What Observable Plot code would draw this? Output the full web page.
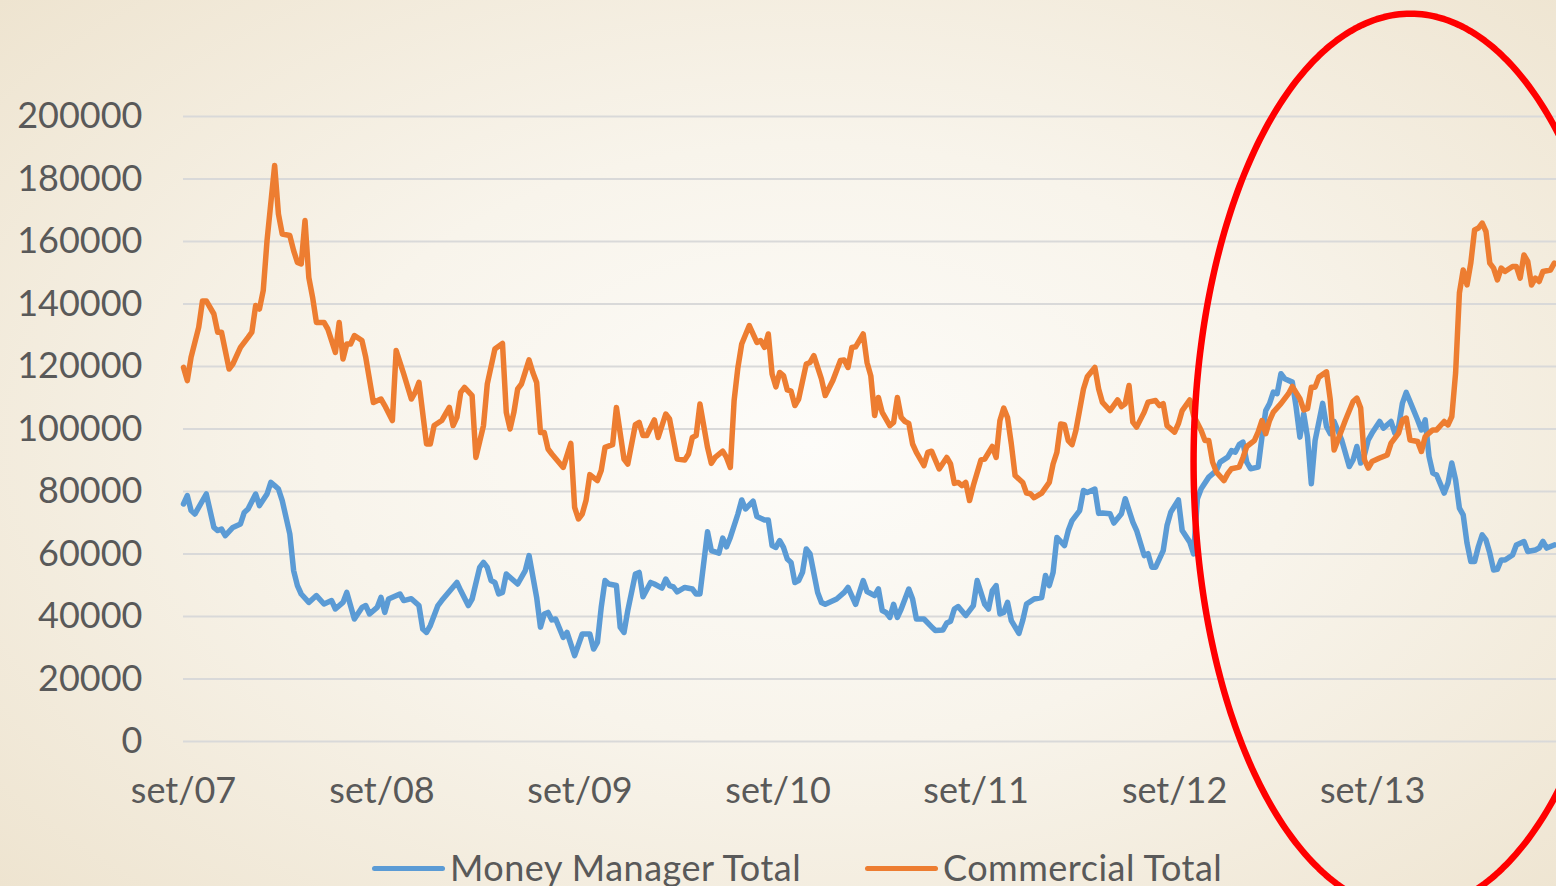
<!DOCTYPE html>
<html>
<head>
<meta charset="utf-8">
<script src="https://cdn.jsdelivr.net/npm/d3@7"></script>
<script src="https://cdn.jsdelivr.net/npm/@observablehq/plot@0.6"></script>
<style>
  html, body { margin: 0; padding: 0; width: 1556px; height: 886px; overflow: hidden; }
  body {
    background: radial-gradient(ellipse 70% 75% at 52% 50%, #fdfcf9 0%, #f8f4eb 45%, #eee4d0 100%);
    font-family: Lato, "Open Sans", sans-serif;
    position: relative;
  }
  #chart { position: absolute; left: 0; top: 0; }
  .sw { position: absolute; height: 5px; width: 73px; border-radius: 3px; top: 866px; }
  .lt { position: absolute; font-size: 36px; line-height: 36px; color: #595959; top: 849px; white-space: nowrap; letter-spacing: 0.5px; }
</style>
</head>
<body>
<div id="chart"></div>
<div class="sw" style="left:372px;background:#5B9BD5"></div>
<div class="lt" style="left:450px">Money Manager Total</div>
<div class="sw" style="left:865px;background:#ED7D31"></div>
<div class="lt" style="left:943px">Commercial Total</div>
<script>
// ---- data (weekly positions, weeks counted from set/07) ----
const seriesNames = ["Money Manager Total", "Commercial Total"];
const seriesColors = ["#5B9BD5", "#ED7D31"];

const mmWeeks = [0,1,2,3,4,6,8,9,10,11,13,15,16,17,19,20,22,23,24,25,26,28,29,30,31,33,35,37,39,40,42,43,45,47,48,49,51,52,53,54,57,58,60,62,63,64,65,67,68,72,73,75,76,78,79,80,81,82,83,84,85,88,90,91,93,94,95,96,97,98,100,101,103,105,107,108,109,110,111,112,114,115,116,117,119,120,121,123,124,126,127,128,129,130,132,134,135,136,138,139,141,142,143,144,146,147,148,150,151,153,154,155,156,157,158,159,160,161,162,163,164,165,167,168,169,172,174,175,177,179,180,182,183,184,185,186,187,188,189,191,192,193,195,197,198,200,201,202,203,204,206,208,209,211,212,213,214,215,216,217,218,220,221,222,224,226,227,228,229,230,232,233,234,236,237,238,240,241,242,244,245,247,248,250,251,253,254,255,256,258,259,260,262,263,265,266,267,268,270,272,273,275,276,277,278,279,280,281,283,284,285,286,287,288,289,290,292,293,294,295,296,297,298,300,301,302,303,305,307,308,309,310,311,312,313,315,316,318,319,320,321,322,323,325,326,327,328,329,330,332,333,334,335,336,337,338,339,340,341,342,343,344,345,346,347,348,350,351,353,354,356,357,358,359,361];
const mmValues = [76000,78700,73900,72800,74900,79200,68500,67500,68000,65900,68500,69600,73300,74400,79200,75500,79200,82900,81900,80800,77100,66400,54700,49900,47200,44500,46700,44000,45100,42400,44500,47700,39200,42900,43500,40800,42900,46100,41300,45600,47200,45100,45700,43500,36000,34900,37100,43500,45100,50900,48300,43500,45600,55700,57300,55700,51500,50900,47200,47700,53600,50400,54700,59500,46100,36600,40800,41300,38900,39200,33300,34900,27500,34400,34400,29600,31700,42900,51500,50400,49900,36600,34900,41900,53600,54100,46300,50900,50400,49100,52000,49900,49500,47900,49300,48800,47200,47200,67100,61100,60300,65100,62300,65300,72800,77300,74400,76900,72000,70900,70900,62700,62100,64300,62100,58400,57300,50900,51500,54100,61600,60000,47700,44500,43900,45600,47700,49300,43900,51500,48000,46700,48800,41900,41300,39700,43900,39700,42400,48800,45600,39200,39200,36700,35500,35700,37900,38500,42400,43200,40300,43500,51500,43900,42400,48300,49900,40800,41300,44500,38700,34600,38700,44000,45600,46100,53100,49900,54100,65300,62700,67500,70700,73900,80300,79700,80800,73000,73100,72900,69900,72900,77700,70200,67500,59500,60100,55800,55800,61100,69100,73400,77300,67500,63800,60000,77700,80900,84600,86700,89400,91000,93100,92600,95000,95800,89400,87300,87800,97400,105900,108100,111800,111300,117700,116100,115000,107000,97400,104900,97400,82500,96300,108200,100800,98500,102400,96500,88000,90100,94400,89100,91700,96500,98700,102400,100300,102400,98700,100800,108300,111700,108800,102900,99700,102900,91200,85900,85300,79500,82700,89100,83700,74700,72500,63500,57600,57600,62400,66100,64500,60300,54900,55100,58100,58100,59700,62900,64000,60800,61300,61900,64000,61900,62900];

const cWeeks = [0,1,2,4,5,6,8,9,10,12,13,15,17,18,19,20,21,22,24,25,26,28,29,30,31,32,33,34,35,37,38,39,40,41,42,43,44,45,47,48,50,52,53,55,56,58,60,61,62,64,65,66,68,69,70,71,72,73,74,76,77,79,80,82,84,85,86,87,88,89,91,92,93,94,95,96,97,100,102,103,104,105,106,107,109,110,111,113,114,116,117,119,120,121,122,124,125,127,128,130,132,133,134,135,136,138,139,140,142,143,144,145,146,147,149,151,152,153,154,155,156,157,158,159,160,161,162,164,165,166,168,169,171,173,174,175,176,177,179,180,181,182,183,184,186,187,188,189,190,191,192,193,195,196,197,199,201,202,203,204,205,206,207,208,210,211,213,214,215,216,217,218,219,221,222,223,224,226,228,229,230,231,232,233,234,235,237,238,240,241,242,244,246,247,248,249,250,251,253,254,256,257,258,259,261,262,263,265,266,268,269,270,271,272,274,275,276,278,279,280,282,283,284,285,286,287,289,291,292,294,295,296,297,298,299,301,302,303,304,306,308,309,310,311,312,313,315,317,318,320,321,322,323,325,326,327,329,330,332,333,334,335,336,337,338,339,340,341,342,343,344,345,346,347,348,350,351,352,353,354,355,356,357,358,360,361];
const cValues = [119700,115500,123000,132500,141000,141000,136800,131000,131000,119200,120800,126100,129300,131000,139500,138400,144300,160300,184300,168800,162400,161900,157100,153300,152800,166700,148500,142100,134100,134100,132000,128300,124500,134100,122400,127200,127200,129900,128300,122900,108500,109600,107500,102700,125100,117600,109600,111700,114900,95200,95200,101100,102700,104800,106900,101100,103700,111700,113300,110700,90900,101100,114400,125600,127400,105300,100000,105300,112800,114400,122100,118100,114900,98900,98900,93600,92000,87700,95400,74900,71200,72800,77100,85400,83500,86700,94100,95000,106900,90400,88800,101400,102100,97900,97900,102900,97300,104800,103200,90400,90100,92000,97300,97900,108000,94100,89000,90900,92900,90900,87700,109100,119700,127200,133100,127700,128300,126100,130400,117600,113500,118100,117100,112500,112100,107500,109600,120800,121300,123500,116000,110700,115500,121900,122100,119700,126100,126300,130400,121300,117000,104300,110100,105300,101100,102100,110100,103700,102400,101800,95200,92500,88300,92500,92900,87200,90900,88800,82600,82900,81900,82900,77100,81900,90100,90400,94400,90900,102700,106700,103700,95200,85100,82900,79500,79300,78000,79500,82900,88800,92500,101600,101400,96300,95000,99500,112800,116700,119700,112800,108500,105900,109300,107200,108100,113900,102200,100600,105400,108600,109100,107500,108100,101100,99000,101700,105900,109300,104300,99500,96300,96300,89400,86200,83500,85700,87300,87800,90800,94400,96300,99000,102700,98500,102700,105400,108100,111300,113600,109700,106100,106500,113400,113400,116600,118300,109300,93300,96500,102900,108800,109900,106700,90100,87500,89600,90700,91700,95500,98700,102900,103500,96500,96000,92800,97600,99700,99700,102400,101300,104000,117900,143500,150900,146100,153100,163700,164300,165900,163200,153100,151500,147700,151500,150400,152000,152000,148300,155700,153600,146100,148300,147200,150400,150900,153100];

const yTicks = [0,20000,40000,60000,80000,100000,120000,140000,160000,180000,200000];
const xTickLabels = ["set/07","set/08","set/09","set/10","set/11","set/12","set/13"];

// red hand-drawn ellipse annotation (centre and radii in data units)
const ellipseCenterDate = "2013-11-10";
const ellipseCenterValue = 89400;
const ellipseRadiusDays = 400;
const ellipseRadiusValue = 143500;

// ---- build ----
const DAY = 864e5;
const start = Date.UTC(2007, 8, 1);
const toDate = w => new Date(start + w * 7 * DAY);
const rows = [];
mmWeeks.forEach((w, i) => rows.push({series: seriesNames[0], date: toDate(w), value: mmValues[i]}));
cWeeks.forEach((w, i) => rows.push({series: seriesNames[1], date: toDate(w), value: cValues[i]}));
const xTicks = xTickLabels.map((s, i) => new Date(Date.UTC(2007 + i, 8, 1)));
const labelOf = new Map(xTicks.map((d, i) => [+d, xTickLabels[i]]));

const ec = Date.parse(ellipseCenterDate);
const ell = d3.range(0, 361).map(a => {
  const t = a * Math.PI / 180;
  return {date: new Date(ec + Math.cos(t) * ellipseRadiusDays * DAY), value: ellipseCenterValue + Math.sin(t) * ellipseRadiusValue};
});

const chart = Plot.plot({
  width: 1556,
  height: 846,
  marginLeft: 183,
  marginRight: 0,
  marginTop: 116,
  marginBottom: 105,
  style: {background: "transparent", fontFamily: "Lato, 'Open Sans', sans-serif", fontSize: "36px", color: "#595959", overflow: "visible"},
  x: {type: "utc", domain: [new Date(start), new Date(start + 2531 * DAY)], ticks: xTicks, tickFormat: d => labelOf.get(+d) ?? "", tickSize: 0, tickPadding: 36, label: null},
  y: {domain: [0, 200000], ticks: yTicks, tickFormat: d => String(d), tickSize: 0, tickPadding: 41, label: null},
  color: {domain: seriesNames, range: seriesColors},
  marks: [
    Plot.ruleY(yTicks, {stroke: "#d9d9d9", strokeWidth: 2}),
    Plot.line(rows, {x: "date", y: "value", z: "series", stroke: "series", strokeWidth: 5.5, strokeLinejoin: "round", strokeLinecap: "round"}),
    Plot.line(ell, {x: "date", y: "value", stroke: "#FF0000", strokeWidth: 6.5})
  ]
});
document.getElementById("chart").appendChild(chart);
</script>
</body>
</html>
